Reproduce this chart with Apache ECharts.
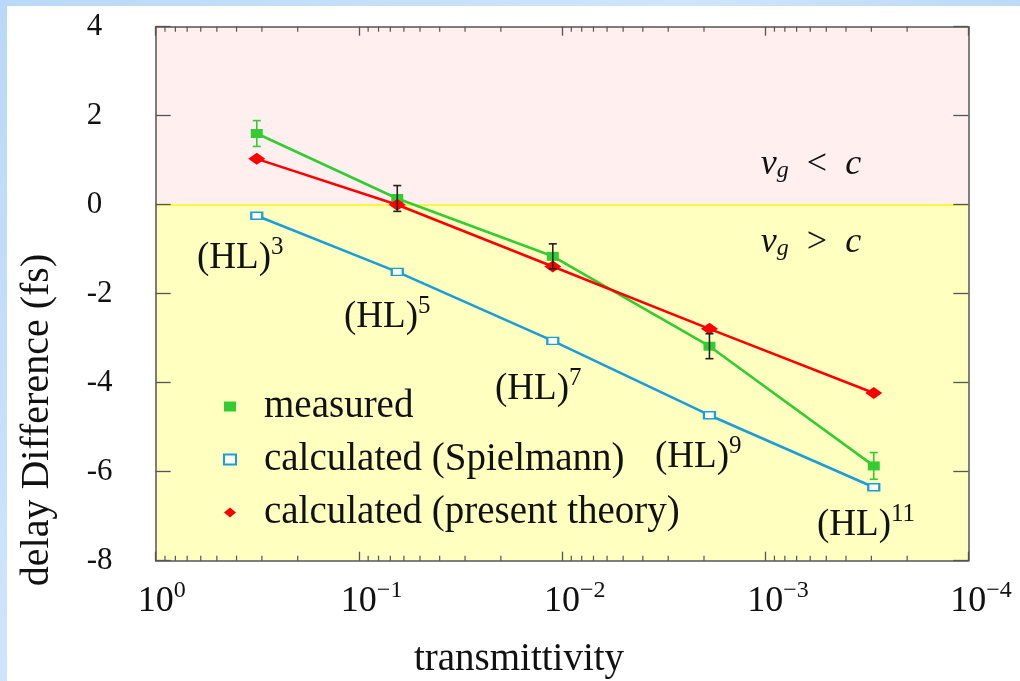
<!DOCTYPE html>
<html>
<head>
<meta charset="utf-8">
<script src="https://cdn.jsdelivr.net/npm/echarts@6/dist/echarts.min.js"></script>
<style>
  html, body { margin: 0; padding: 0; width: 1020px; height: 681px; overflow: hidden; }
  body { background: linear-gradient(135deg, #b9d8f7 0%, #cfe5fb 40%, #b4d4f5 70%, #c9e1fa 100%); position: relative; }
  #panel { position: absolute; left: 7px; top: 6px; right: 0; bottom: 0; background: #ffffff; }
  #chart { position: absolute; left: 0; top: 0; width: 1020px; height: 681px; }
</style>
</head>
<body>
<div id="panel"></div>
<div id="chart"></div>
<script>
// ---- data ----
const transmittivity = [0.318, 0.0647, 0.0111, 0.00188, 0.000292];
const measured       = [1.60, 0.14, -1.16, -3.18, -5.87];
const measuredErr    = [0.29, 0.29, 0.28, 0.28, 0.30];
const spielmann      = [-0.25, -1.51, -3.06, -4.73, -6.35];
const presentTheory  = [1.03, 0.00, -1.39, -2.79, -4.23];
const layerExponents = ['3', '5', '7', '9', '11'];
const seriesNames    = ['measured', 'calculated (Spielmann)', 'calculated (present theory)'];
const minorMultipliers = [2, 3, 4, 5, 6, 7, 8, 9];
const decades = [1e-4, 1e-3, 1e-2, 1e-1];

// ---- styles ----
const F = 'Liberation Serif';
const GREEN = '#33cc33', BLUE = '#1a9ed8', RED = '#ff0000';
const errColors = [GREEN, '#222222', '#222222', '#222222', GREEN];
const AXIS = '#555555';

const pair = (xs, ys) => xs.map((x, i) => [x, ys[i]]);
const supText = e => (e < 0 ? '\u2212' + (-e) : String(e));

const richX = {
  b:   { fontFamily: F, fontSize: 36, color: '#111', verticalAlign: 'bottom', lineHeight: 38 },
  sup: { fontFamily: F, fontSize: 24, color: '#111', verticalAlign: 'bottom', lineHeight: 24, padding: [0, 0, 17, 0] },
  ph:  { fontFamily: F, fontSize: 24, color: 'rgba(0,0,0,0)', verticalAlign: 'bottom', lineHeight: 24, padding: [0, 0, 17, 0] }
};
const richHL = {
  b:   { fontFamily: F, fontSize: 37, fill: '#111', verticalAlign: 'bottom', lineHeight: 38 },
  sup: { fontFamily: F, fontSize: 25, fill: '#111', verticalAlign: 'bottom', lineHeight: 25, padding: [0, 0, 17, 0] }
};
const richV = {
  i:   { fontFamily: F, fontStyle: 'italic', fontSize: 36, fill: '#111', verticalAlign: 'bottom', lineHeight: 36 },
  n:   { fontFamily: F, fontSize: 36, fill: '#111', verticalAlign: 'bottom', lineHeight: 36 },
  sub: { fontFamily: F, fontStyle: 'italic', fontSize: 24, fill: '#111', verticalAlign: 'bottom', lineHeight: 24, padding: [0, 0, 0, 0] }
};

const chart = echarts.init(document.getElementById('chart'), null, { renderer: 'canvas' });

const grid = { left: 155.7, right: 51.7, top: 26.7, bottom: 120.3, containLabel: false };

const hlLabels = [
  { x: 197, y: 258 }, { x: 344, y: 317 }, { x: 495, y: 389 }, { x: 655, y: 457 }, { x: 817, y: 525 }
];

const axisLineStyle = { show: true, onZero: false, lineStyle: { color: AXIS, width: 1.5 } };

const option = {
  animation: false,
  backgroundColor: 'transparent',
  grid: grid,
  xAxis: [
    {
      z: 20, type: 'log', logBase: 10, min: 1e-4, max: 1, inverse: true, position: 'bottom',
      axisLine: axisLineStyle,
      axisTick: { show: true, inside: true, length: 9, lineStyle: { color: AXIS, width: 1.3 } },
      splitLine: { show: false },
      axisLabel: {
        margin: 21,
        formatter: v => { const e = Math.round(Math.log10(v)); const s = supText(e); return '{ph|' + s + '}{b|10}{sup|' + s + '}'; },
        rich: richX
      }
    },
    {
      z: 20, type: 'log', logBase: 10, min: 1e-4, max: 1, inverse: true, position: 'top',
      axisLine: axisLineStyle,
      axisTick: { show: true, inside: true, length: 9, lineStyle: { color: AXIS, width: 1.3 } },
      axisLabel: { show: false }, splitLine: { show: false }
    }
  ],
  yAxis: [
    {
      z: 20, type: 'value', min: -8, max: 4, interval: 2, position: 'left',
      axisLine: axisLineStyle,
      axisTick: { show: true, inside: true, length: 15, lineStyle: { color: AXIS, width: 1.3 } },
      splitLine: { show: false },
      axisLabel: { margin: 69, align: 'left', fontFamily: F, fontSize: 31, color: '#111', formatter: v => String(v) }
    },
    {
      z: 20, type: 'value', min: -8, max: 4, interval: 2, position: 'right',
      axisLine: axisLineStyle,
      axisTick: { show: true, inside: true, length: 15, lineStyle: { color: AXIS, width: 1.3 } },
      splitLine: { show: false }, axisLabel: { show: false }
    }
  ],
  legend: {
    orient: 'vertical', left: 223, top: 387, itemGap: 14, padding: 0,
    itemWidth: 12, itemHeight: 10,
    textStyle: { fontFamily: F, fontSize: 39, color: '#111', padding: [0, 0, 0, 23] },
    data: [
      { name: seriesNames[0], icon: 'rect', itemStyle: { color: GREEN, borderWidth: 0 } },
      { name: seriesNames[1], icon: 'rect', itemStyle: { color: '#fff', borderColor: BLUE, borderWidth: 2 } },
      { name: seriesNames[2], icon: 'diamond', itemStyle: { color: RED, borderWidth: 0 } }
    ]
  },
  graphic: [
    ...hlLabels.map((p, i) => ({
      type: 'text', x: p.x, y: p.y, z: 50,
      style: { text: '{b|(HL)}{sup|' + layerExponents[i] + '}', rich: richHL, verticalAlign: 'middle', align: 'left' }
    })),
    { type: 'text', x: 811, y: 165, z: 50,
      style: { text: '{i|v}{sub|g}{n|  <  }{i|c}', rich: richV, align: 'center', verticalAlign: 'middle' } },
    { type: 'text', x: 811, y: 243, z: 50,
      style: { text: '{i|v}{sub|g}{n|  >  }{i|c}', rich: richV, align: 'center', verticalAlign: 'middle' } },
    { type: 'text', x: 37, y: 420, rotation: Math.PI / 2, z: 50,
      style: { text: 'delay Difference (fs)', fontFamily: F, fontSize: 40, fill: '#111', align: 'center', verticalAlign: 'middle' } },
    { type: 'text', x: 519, y: 660, z: 50,
      style: { text: 'transmittivity', fontFamily: F, fontSize: 39, fill: '#111', align: 'center', verticalAlign: 'middle' } }
  ],
  series: [
    {
      // background regions + zero line
      type: 'line', data: [], silent: true, z: 0,
      markArea: {
        silent: true,
        data: [
          [{ yAxis: 0, itemStyle: { color: '#ffefef' } }, { yAxis: 4 }],
          [{ yAxis: -8, itemStyle: { color: '#ffffc0' } }, { yAxis: 0 }]
        ]
      },
      markLine: {
        silent: true, symbol: 'none', label: { show: false },
        lineStyle: { color: '#fff53c', width: 2, type: 'solid' },
        data: [{ yAxis: 0 }]
      }
    },
    {
      // minor log ticks on bottom and top axes
      type: 'custom', silent: true, z: 25, data: [[1, 0]], clip: false,
      renderItem: (params, api) => {
        const children = [];
        decades.forEach(d => minorMultipliers.forEach(m => {
          const v = d * m;
          const pb = api.coord([v, -8]);
          const pt = api.coord([v, 4]);
          children.push({ type: 'line', shape: { x1: pb[0], y1: pb[1], x2: pb[0], y2: pb[1] - 5 }, style: { stroke: AXIS, lineWidth: 1.2 } });
          children.push({ type: 'line', shape: { x1: pt[0], y1: pt[1], x2: pt[0], y2: pt[1] + 5 }, style: { stroke: AXIS, lineWidth: 1.2 } });
        }));
        return { type: 'group', children };
      }
    },
    {
      name: seriesNames[1], type: 'line', z: 10, data: pair(transmittivity, spielmann),
      symbol: 'rect', symbolSize: [11, 7],
      lineStyle: { color: BLUE, width: 2.6 },
      itemStyle: { color: '#ffffff', borderColor: BLUE, borderWidth: 1.8 }
    },
    {
      name: seriesNames[0], type: 'line', z: 11, data: pair(transmittivity, measured),
      symbol: 'rect', symbolSize: [12, 9],
      lineStyle: { color: GREEN, width: 2.6 },
      itemStyle: { color: GREEN }
    },
    {
      name: seriesNames[2], type: 'line', z: 12, data: pair(transmittivity, presentTheory),
      symbol: 'diamond', symbolSize: [17, 12],
      lineStyle: { color: RED, width: 2.6 },
      itemStyle: { color: RED }
    },
    {
      // error bars of the measured series
      type: 'custom', z: 13, silent: true,
      data: transmittivity.map((x, i) => [x, measured[i] - measuredErr[i], measured[i] + measuredErr[i], i]),
      renderItem: (params, api) => {
        const lo = api.coord([api.value(0), api.value(1)]);
        const hi = api.coord([api.value(0), api.value(2)]);
        const c = errColors[api.value(3)];
        const st = { stroke: c, lineWidth: 1.6 };
        return { type: 'group', children: [
          { type: 'line', shape: { x1: lo[0], y1: lo[1], x2: hi[0], y2: hi[1] }, style: st },
          { type: 'line', shape: { x1: lo[0] - 4, y1: lo[1], x2: lo[0] + 4, y2: lo[1] }, style: st },
          { type: 'line', shape: { x1: hi[0] - 4, y1: hi[1], x2: hi[0] + 4, y2: hi[1] }, style: st }
        ] };
      }
    }
  ]
};
chart.setOption(option);
</script>
</body>
</html>
